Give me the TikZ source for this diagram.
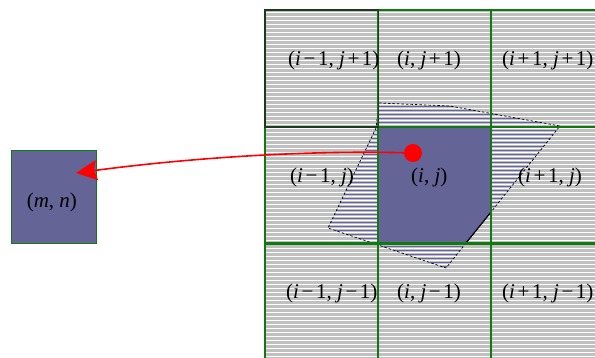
\documentclass[tikz,border=0pt]{standalone}
\usepackage{fontspec}
\setmainfont{Liberation Serif}
\usetikzlibrary{arrows.meta,calc}
\definecolor{cellgray}{HTML}{C0C0C0}
\definecolor{cellblue}{HTML}{646496}
\definecolor{gridgreen}{HTML}{107A10}
\definecolor{darkgreen}{HTML}{1C3A1C}
\definecolor{hatchblue}{HTML}{6464A8}
\newcommand{\ii}{\textit{i}}
\newcommand{\jj}{\textit{j}}
\newcommand{\op}[1]{\kern2.6pt#1\kern2.6pt}
\tikzset{>=Latex,
  every node/.style={font=\fontsize{21}{25}\selectfont},
  cell/.style={minimum width=113pt,minimum height=116.5pt,inner sep=0pt,anchor=north west,fill=cellgray},
  stripe/.style={draw=white,line width=1.2pt},
  hatchline/.style={draw=hatchblue,line width=.5pt},
  gridline/.style={draw=gridgreen,line width=1.6pt},
  hatchedge/.style={draw=black,line width=.7pt,dash pattern=on 2.5pt off 2pt},
  cutedge/.style={draw=black,line width=1.2pt},
  cellname/.style={anchor=west,inner sep=0pt},
  target/.style={anchor=north west,minimum width=85pt,minimum height=93pt,inner sep=0pt,
    fill=cellblue,draw=gridgreen,line width=.8pt},
  reddot/.style={circle,fill=red,minimum size=18pt,inner sep=0pt},
  link/.style={draw=red,line width=1.6pt,-{Stealth[length=21pt,width=20pt,inset=3pt]}}}
\begin{document}
\begin{tikzpicture}[x=1pt,y=-1pt]
\clip (0,0) rectangle (595,358);
% 3x3 neighbourhood, row 0 is j+1
\foreach \col/\x in {0/265,1/378,2/491}
  \foreach \row/\y in {0/10,1/127,2/243}
    \node[cell] (c-\col-\row) at (\x,\y) {};
\foreach \y in {12.6,16.6,...,358}
  \draw[stripe] (c-0-0.west |- 0,\y) -- (595,\y);
% deformed cell laid over the grid
\begin{scope}
\clip (379,103) -- (450,106) -- (560,126) -- (446,268) -- (328,228) -- (376,128) -- cycle;
\foreach \y in {102.5,106.5,...,270}
  \draw[hatchline] (320,\y) -- (570,\y);
\end{scope}
\path[hatchedge] (379,103) -- (450,106) -- (560,126) -- (446,268) -- (328,228) -- (376,128) -- cycle;
\coordinate (cutA) at (491,212);
\coordinate (cutB) at (466,243);
\fill[cellblue] (c-1-1.north west) -- (c-1-1.north east) -- (cutA) -- (cutB) -- (c-1-1.south west) -- cycle;
\draw[cutedge] (cutA) -- (cutB);
\foreach \col in {0,1,2}
  \foreach \row in {0,1,2}
    \draw[gridline] (c-\col-\row.north west) rectangle (c-\col-\row.south east);
\draw[gridline,draw=darkgreen] (c-0-0.north west) rectangle (c-0-0.south east);
\foreach \col/\row/\dx/\lab in {0/0/23/{(\ii\op{−}1, \jj\op{+}1)},1/0/19/{(\ii, \jj\op{+}1)},2/0/11/{(\ii\op{+}1, \jj\op{+}1)},
  0/1/25/{(\ii\op{−}1, \jj)},1/1/33/{(\ii, \jj)},2/1/27/{(\ii\op{+}1, \jj)},
  0/2/21/{(\ii\op{−}1, \jj\op{−}1)},1/2/19/{(\ii, \jj\op{−}1)},2/2/11/{(\ii\op{+}1, \jj\op{−}1)}} {
  \begin{scope}
  \clip (c-\col-\row.north west) rectangle (c-\col-\row.south east);
  \node[cellname] (l-\col-\row) at ($(c-\col-\row.west)+(\dx,-8)$) {\lab};
  \end{scope}}
\node[target] (mn) at (11,150) {};
\node (mn-lab) at ($(mn.center)+(-2,6)$) {(\textit{m}, \textit{n})};
\node[reddot] (pt) at (413,153) {};
\coordinate (tip) at (76,173);
\draw[link] (pt) .. controls (300,150) and (180,159) .. (tip);
\end{tikzpicture}
\end{document}
